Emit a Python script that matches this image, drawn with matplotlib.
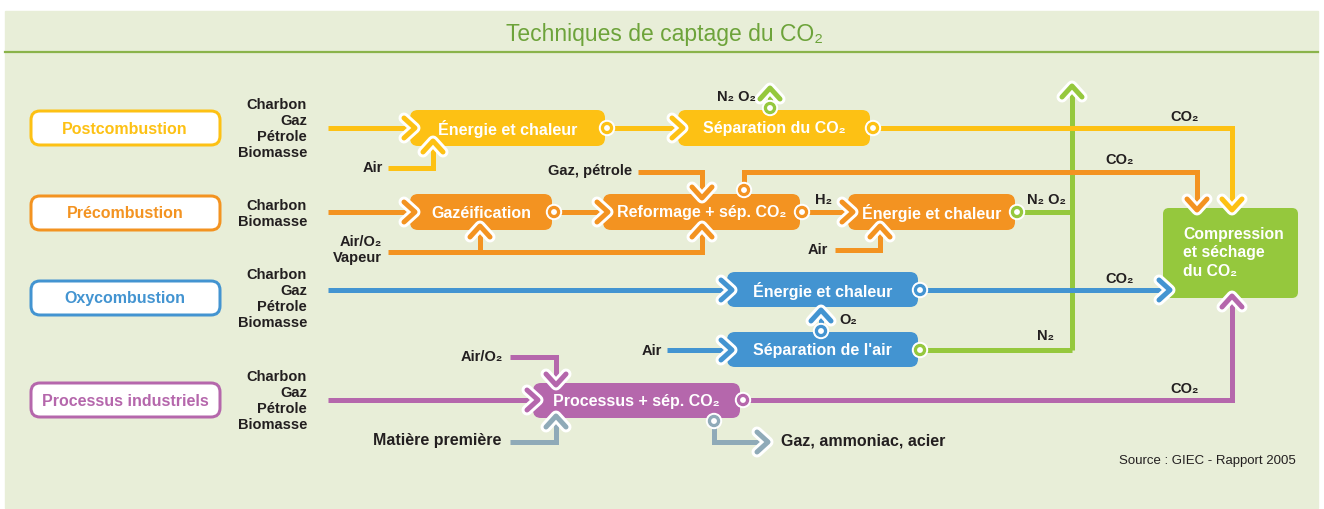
import matplotlib.pyplot as plt
from matplotlib.patches import FancyBboxPatch, Rectangle, Circle

plt.rcParams['font.family'] = ['Liberation Sans', 'DejaVu Sans']

# palette
YEL = '#FDC114'
ORA = '#F39321'
BLU = '#4394D1'
PUR = '#B567AC'
GRN = '#95C83D'
GRY = '#8FAAB8'
TXT = '#231F20'
BG = '#E8EED8'

title = 'Techniques de captage du CO₂'
techniques = ['Postcombustion', 'Précombustion', 'Oxycombustion', 'Processus industriels']
tech_colors = [YEL, ORA, BLU, PUR]
fuels = [['Charbon', 'Gaz', 'Pétrole', 'Biomasse'],
         ['Charbon', 'Biomasse'],
         ['Charbon', 'Gaz', 'Pétrole', 'Biomasse'],
         ['Charbon', 'Gaz', 'Pétrole', 'Biomasse']]
source = 'Source : GIEC - Rapport 2005'

fig = plt.figure(figsize=(13.24, 5.09), dpi=100)
ax = fig.add_axes([0, 0, 1, 1])
ax.set_xlim(0, 1324)
ax.set_ylim(509, 0)
ax.axis('off')

PX = 0.72  # points per pixel


def line(pts, c, z=2):
    xs = [p[0] for p in pts]
    ys = [p[1] for p in pts]
    ax.plot(xs, ys, color=c, lw=5 * PX, solid_capstyle='butt', solid_joinstyle='miter', zorder=z)


def chev(x, y, d, c):
    a, b = 11, 10
    if d == 'r':
        pts = [(x - a, y - b), (x, y), (x - a, y + b)]
    elif d == 'l':
        pts = [(x + a, y - b), (x, y), (x + a, y + b)]
    elif d == 'u':
        pts = [(x - b, y + a), (x, y), (x + b, y + a)]
    else:
        pts = [(x - b, y - a), (x, y), (x + b, y - a)]
    xs = [p[0] for p in pts]
    ys = [p[1] for p in pts]
    ax.plot(xs, ys, color='white', lw=11 * PX, solid_capstyle='round', solid_joinstyle='round', zorder=6)
    ax.plot(xs, ys, color=c, lw=5 * PX, solid_capstyle='round', solid_joinstyle='round', zorder=7)


def port(x, y, c):
    ax.add_patch(Circle((x, y), 7.5, color='white', zorder=6))
    ax.add_patch(Circle((x, y), 5.5, color=c, zorder=7))
    ax.add_patch(Circle((x, y), 2.2, color='white', zorder=8))


def box(x0, y0, x1, y1, c, label, r=8, fs=11.5):
    ax.add_patch(FancyBboxPatch((x0, y0), x1 - x0, y1 - y0,
                                boxstyle='round,pad=0,rounding_size=%d' % r,
                                fc=c, ec='none', zorder=4))
    if label:
        ax.text((x0 + x1) / 2, (y0 + y1) / 2 + 1, label, color='white', fontsize=fs,
                fontweight='bold', ha='center', va='center', zorder=5)


def lab(x, y, s, ha='center', fs=10.5, c=TXT, w='bold'):
    ax.text(x, y, s, color=c, fontsize=fs, fontweight=w, ha=ha, va='center', zorder=9)


# panel and title
ax.add_patch(Rectangle((5, 11), 1313, 497, color=BG, zorder=0))
ax.plot([5, 1318], [52, 52], color='#8AB34A', lw=1.6, zorder=1)
ax.text(664, 34, title, color='#6DA33A', fontsize=16.5, ha='center', va='center')

# technique boxes and fuel lists
tech_y = [128, 213, 298, 400]
for name, c, y, fl in zip(techniques, tech_colors, tech_y, fuels):
    ax.add_patch(FancyBboxPatch((31, y - 17), 189, 34, boxstyle='round,pad=0,rounding_size=9',
                                fc='white', ec=c, lw=3 * PX, zorder=3))
    ax.text(125, y + 1, name, color=c, fontsize=11.5, fontweight='bold', ha='center', va='center')
    n = len(fl)
    for i, f in enumerate(fl):
        lab(307, y + 1 + (i - (n - 1) / 2) * 16, f, ha='right')

# green exhaust stack
line([(1072, 350), (1072, 92)], GRN, z=1)
chev(1072, 86, 'u', GRN)

# --- postcombustion (yellow)
line([(328, 128), (410, 128)], YEL)
box(410, 110, 605, 146, YEL, 'Énergie et chaleur')
chev(415, 128, 'r', YEL)
port(607, 128, YEL)
line([(607, 128), (678, 128)], YEL)
box(678, 110, 870, 146, YEL, 'Séparation du CO₂')
chev(683, 128, 'r', YEL)
line([(770, 108), (770, 92)], GRN)
chev(770, 88, 'u', GRN)
port(770, 108, GRN)
lab(736, 97, 'N₂ O₂')
port(873, 128, YEL)
line([(873, 128), (1232, 128), (1232, 205)], YEL)
chev(1232, 210, 'd', YEL)
lab(1185, 117, 'CO₂')
lab(383, 168, 'Air', ha='right')
line([(388, 168), (433, 168), (433, 148)], YEL)
chev(433, 141, 'u', YEL)

# --- precombustion (orange)
line([(328, 212), (410, 212)], ORA)
box(410, 194, 552, 230, ORA, 'Gazéification')
chev(415, 212, 'r', ORA)
port(554, 212, ORA)
line([(554, 212), (603, 212)], ORA)
box(603, 194, 800, 230, ORA, 'Reformage + sép. CO₂')
chev(608, 212, 'r', ORA)
port(802, 212, ORA)
line([(802, 212), (848, 212)], ORA)
lab(824, 200, 'H₂')
box(848, 194, 1015, 230, ORA, 'Énergie et chaleur')
chev(853, 212, 'r', ORA)
port(1017, 212, GRN)
line([(1017, 212), (1072, 212)], GRN, z=1)
lab(1046, 200, 'N₂ O₂')
lab(632, 171, 'Gaz, pétrole', ha='right')
line([(638, 172), (702, 172), (702, 190)], ORA)
chev(702, 198, 'd', ORA)
port(744, 190, ORA)
line([(744, 190), (744, 172), (1197, 172), (1197, 205)], ORA)
chev(1197, 210, 'd', ORA)
lab(1120, 160, 'CO₂')
lab(382, 242, 'Air/O₂', ha='right')
lab(382, 258, 'Vapeur', ha='right')
line([(388, 252), (702, 252), (702, 232)], ORA)
line([(480, 252), (480, 232)], ORA)
chev(480, 226, 'u', ORA)
chev(702, 226, 'u', ORA)
lab(828, 250, 'Air', ha='right')
line([(835, 250), (880, 250), (880, 232)], ORA)
chev(880, 226, 'u', ORA)

# --- oxycombustion (blue)
line([(328, 290), (727, 290)], BLU)
box(727, 272, 918, 307, BLU, 'Énergie et chaleur')
chev(732, 290, 'r', BLU)
port(920, 290, BLU)
line([(920, 290), (1165, 290)], BLU, z=3)
chev(1170, 290, 'r', BLU)
lab(1120, 279, 'CO₂')
box(727, 332, 918, 367, BLU, "Séparation de l'air")
port(821, 331, BLU)
line([(821, 331), (821, 314)], BLU)
chev(821, 310, 'u', BLU)
lab(848, 320, 'O₂')
lab(662, 351, 'Air', ha='right')
line([(667, 350), (727, 350)], BLU)
chev(732, 350, 'r', BLU)
port(920, 350, GRN)
line([(920, 350), (1072, 350)], GRN, z=1)
lab(1045, 336, 'N₂')

# --- industrial processes (purple)
line([(328, 400), (533, 400)], PUR)
box(533, 383, 740, 418, PUR, 'Processus + sép. CO₂')
chev(538, 400, 'r', PUR)
port(743, 400, PUR)
line([(743, 400), (1232, 400), (1232, 300)], PUR)
chev(1232, 296, 'u', PUR)
lab(1185, 389, 'CO₂')
lab(503, 357, 'Air/O₂', ha='right')
line([(510, 357), (556, 357), (556, 380)], PUR)
chev(556, 385, 'd', PUR)
lab(501, 441, 'Matière première', ha='right', fs=11.5)
line([(510, 442), (556, 442), (556, 422)], GRY)
chev(556, 416, 'u', GRY)
port(714, 421, GRY)
line([(714, 421), (714, 442), (762, 442)], GRY)
chev(768, 442, 'r', GRY)
lab(781, 441, 'Gaz, ammoniac, acier', ha='left', fs=11.5)

# compression box
ax.add_patch(FancyBboxPatch((1163, 208), 135, 90, boxstyle='round,pad=0,rounding_size=6',
                            fc=GRN, ec='none', zorder=4))
for i, s in enumerate(['Compression', 'et séchage', 'du CO₂']):
    ax.text(1183, 235 + i * 18, s, color='white', fontsize=11.3, fontweight='bold',
            ha='left', va='center', zorder=5)

ax.text(1296, 461, source, color=TXT, fontsize=9.5, ha='right', va='center')

fig.savefig('out.png', dpi=100)
